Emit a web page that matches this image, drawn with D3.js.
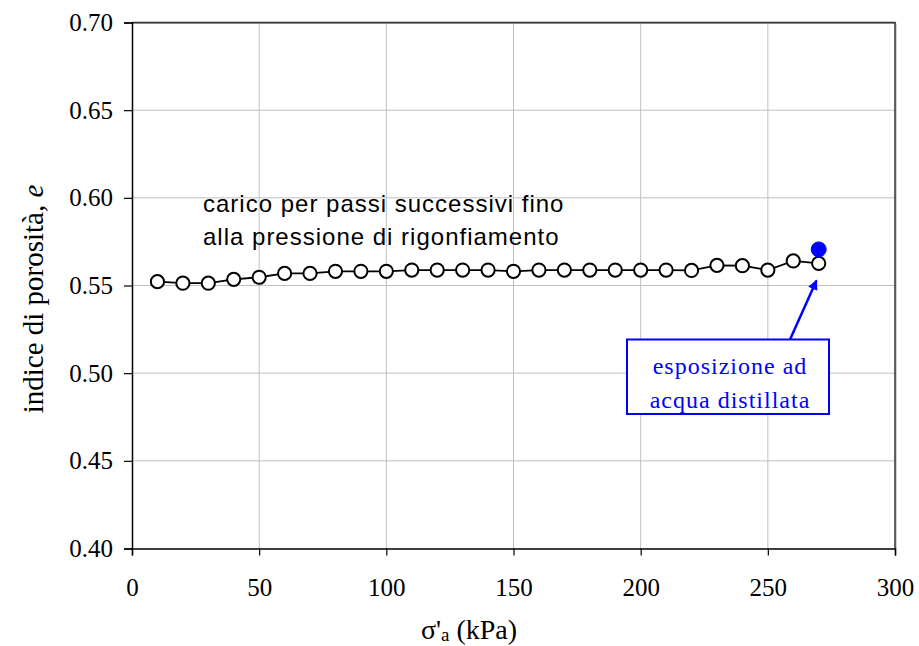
<!DOCTYPE html>
<html>
<head>
<meta charset="utf-8">
<script src="https://cdn.jsdelivr.net/npm/d3@7"></script>
<style>
  html, body { margin: 0; padding: 0; background: #fff; }
  svg { display: block; }
  .tick text { font-family: 'Liberation Serif', 'Times New Roman', serif !important; }
</style>
</head>
<body>
<svg id="chart" width="919" height="646"></svg>
<script>
// ---- data ----
const stress = [10, 20, 30, 40, 50, 60, 70, 80, 90, 100, 110, 120, 130, 140, 150, 160, 170, 180, 190, 200, 210, 220, 230, 240, 250, 260, 270];
const voidRatio = [0.5522, 0.5513, 0.5513, 0.5535, 0.5547, 0.5569, 0.5569, 0.5581, 0.5581, 0.5581, 0.5588, 0.5588, 0.5588, 0.5588, 0.5581, 0.5588, 0.5588, 0.5588, 0.5588, 0.5588, 0.5588, 0.5586, 0.5615, 0.5613, 0.5588, 0.5640, 0.5626];
const exposedStress = [270];
const exposedVoid = [0.5706];
const xTicks = [0, 50, 100, 150, 200, 250, 300];
const yTicks = [0.40, 0.45, 0.50, 0.55, 0.60, 0.65, 0.70];
const noteLines = ["carico per passi successivi fino", "alla pressione di rigonfiamento"];
const boxLines = ["esposizione ad", "acqua distillata"];

// ---- layout ----
const svg = d3.select("#chart");
const L = 132, R = 895, T = 22.5, B = 548.5;
const x = d3.scaleLinear().domain([0, 300]).range([L, R]);
const y = d3.scaleLinear().domain([0.40, 0.70]).range([B, T]);
const serif = "'Liberation Serif', 'Times New Roman', serif";
const sans = "'Liberation Sans', Arial, sans-serif";

// gridlines
svg.append("g").selectAll("line").data(xTicks.slice(1, -1)).join("line")
  .attr("x1", d => x(d)).attr("x2", d => x(d)).attr("y1", T).attr("y2", B)
  .attr("stroke", "#c0c0c0").attr("stroke-width", 1);
svg.append("g").selectAll("line").data(yTicks.slice(1, -1)).join("line")
  .attr("x1", L).attr("x2", R).attr("y1", d => y(d)).attr("y2", d => y(d))
  .attr("stroke", "#c0c0c0").attr("stroke-width", 1);

// plot frame top / right
svg.append("path")
  .attr("d", `M${L},${T + 1}H${R + 1}V${B}`)
  .attr("fill", "none").attr("stroke", "#aaa").attr("stroke-width", 1);
svg.append("path")
  .attr("d", `M${L},${T}H${R}V${B}`)
  .attr("fill", "none").attr("stroke", "#333").attr("stroke-width", 1.5);

// axes
const xAxis = d3.axisBottom(x).tickValues(xTicks).tickSize(7).tickPadding(23).tickFormat(d3.format("d"));
const yAxis = d3.axisLeft(y).tickValues(yTicks).tickSize(8).tickPadding(11).tickFormat(d3.format(".2f"));
const gx = svg.append("g").attr("transform", `translate(0,${B})`).call(xAxis);
const gy = svg.append("g").attr("transform", `translate(${L},0)`).call(yAxis);
[gx, gy].forEach(g => {
  g.attr("font-family", serif).attr("font-size", 25);
  g.select(".domain").attr("stroke", "#000").attr("stroke-width", 1.5);
  g.selectAll(".tick line").attr("stroke", "#000").attr("stroke-width", 1.2);
  g.selectAll(".tick text").attr("fill", "#000").attr("font-family", serif).style("font-size", "25px");
});

// axis titles
const xt = svg.append("text").attr("x", 469).attr("y", 639).attr("text-anchor", "middle")
  .attr("font-family", serif).style("font-size", "28px").attr("fill", "#000");
xt.append("tspan").text("σ'");
xt.append("tspan").attr("dy", 2).style("font-size", "19px").text("a");
xt.append("tspan").attr("dy", -2).text(" (kPa)");

const yt = svg.append("text").attr("transform", "translate(43,299) rotate(-90)").attr("text-anchor", "middle")
  .attr("font-family", serif).style("font-size", "29px").attr("fill", "#000");
yt.append("tspan").text("indice di porosità, ");
yt.append("tspan").style("font-style", "italic").text("e");

// series line + markers
const line = d3.line().x((d, i) => x(stress[i])).y(d => y(d));
svg.append("path").datum(voidRatio).attr("d", line)
  .attr("fill", "none").attr("stroke", "#000").attr("stroke-width", 1.8);
svg.append("g").selectAll("circle").data(voidRatio).join("circle")
  .attr("cx", (d, i) => x(stress[i])).attr("cy", d => y(d)).attr("r", 6.6)
  .attr("fill", "#fff").attr("stroke", "#000").attr("stroke-width", 2);
svg.append("g").selectAll("circle").data(exposedVoid).join("circle")
  .attr("cx", (d, i) => x(exposedStress[i])).attr("cy", d => y(d)).attr("r", 7.5)
  .attr("fill", "#0000ff").attr("stroke", "#0000ff").attr("stroke-width", 1);

// note text
svg.append("g").selectAll("text").data(noteLines).join("text")
  .attr("x", 203).attr("y", (d, i) => 212 + i * 33)
  .attr("font-family", sans).style("font-size", "24px").style("letter-spacing", "1px").attr("fill", "#000")
  .text(d => d);

// annotation box + arrow
const bx = 627, by = 339.5, bw = 202, bh = 74.5;
svg.append("rect").attr("x", bx).attr("y", by).attr("width", bw).attr("height", bh)
  .attr("fill", "#fff").attr("stroke", "#0000ff").attr("stroke-width", 2);
svg.append("g").selectAll("text").data(boxLines).join("text")
  .attr("x", 730).attr("y", (d, i) => 374 + i * 34).attr("text-anchor", "middle")
  .attr("font-family", serif).style("font-size", "24px").style("letter-spacing", "1px").attr("fill", "#0000ff")
  .text(d => d);

svg.append("defs").append("marker").attr("id", "ah").attr("viewBox", "0 0 10 10")
  .attr("refX", 9).attr("refY", 5).attr("markerWidth", 4.5).attr("markerHeight", 4)
  .attr("orient", "auto").attr("markerUnits", "strokeWidth")
  .append("path").attr("d", "M0,0L10,5L0,10z").attr("fill", "#0000ff");
svg.append("line").attr("x1", 790).attr("y1", by).attr("x2", 816.5).attr("y2", 280.5)
  .attr("stroke", "#0000ff").attr("stroke-width", 2.5).attr("marker-end", "url(#ah)");
</script>
</body>
</html>
